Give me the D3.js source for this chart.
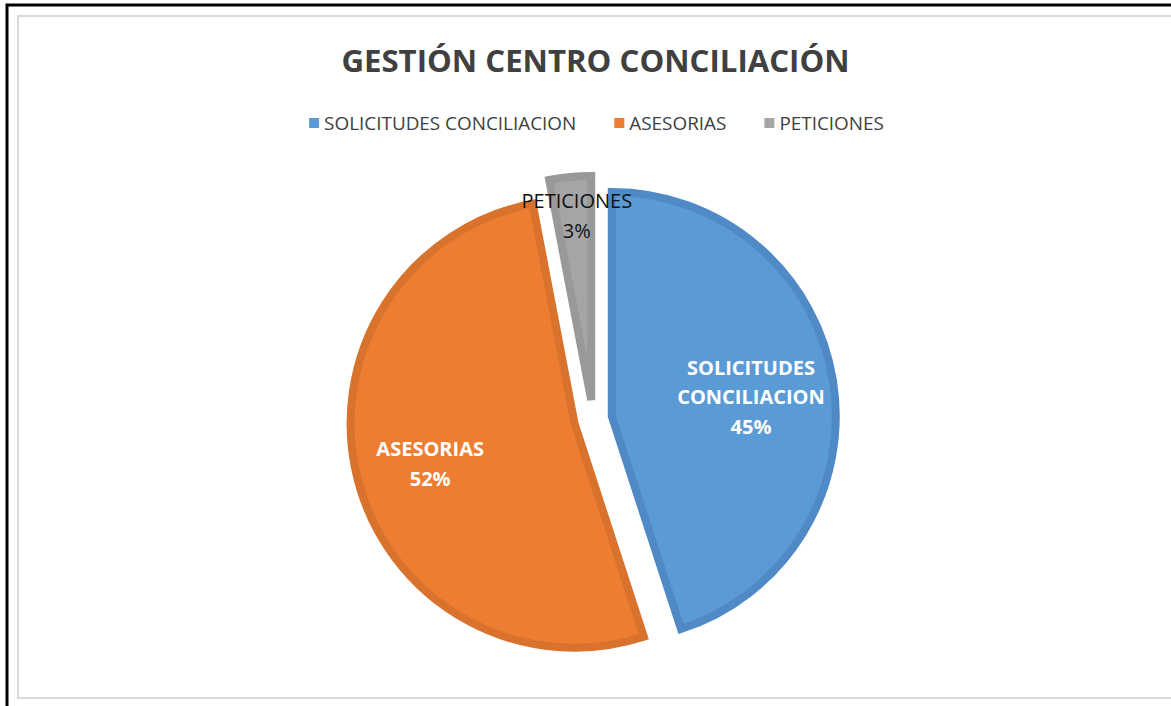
<!DOCTYPE html>
<html>
<head>
<meta charset="utf-8">
<script src="https://cdn.jsdelivr.net/npm/d3@7"></script>
<style>
  html, body { margin: 0; padding: 0; background: #fff; }
  svg { display: block; font-family: "Open Sans", sans-serif; }
</style>
</head>
<body>
<div id="chart"></div>
<script>
// Data
const categories = ["SOLICITUDES CONCILIACION", "ASESORIAS", "PETICIONES"];
const values = [45, 52, 3];
const colors = ["#5B9BD5", "#ED7D31", "#A5A5A5"];
const borderColors = ["#4F8AC6", "#D9722C", "#999999"];
const title = "GESTIÓN CENTRO CONCILIACIÓN";

const width = 1171, height = 706;

const svg = d3.select("#chart")
  .append("svg")
  .attr("width", width)
  .attr("height", height);

svg.append("rect")
  .attr("width", width)
  .attr("height", height)
  .attr("fill", "#fff");

// outer black frame (cut off on right and bottom) and chart area border
svg.append("rect")
  .attr("x", 7).attr("y", 5)
  .attr("width", width + 20).attr("height", height + 20)
  .attr("fill", "none")
  .attr("stroke", "#000")
  .attr("stroke-width", 3);

svg.append("rect")
  .attr("x", 18).attr("y", 16)
  .attr("width", width + 20).attr("height", 682)
  .attr("fill", "none")
  .attr("stroke", "#d9d9d9")
  .attr("stroke-width", 2);

const centerX = 595.5;

// Title
svg.append("text")
  .attr("x", centerX)
  .attr("y", 72)
  .attr("text-anchor", "middle")
  .attr("font-size", "31.2px")
  .attr("font-weight", "bold")
  .attr("fill", "#404040")
  .text(title);

// Legend
const data = categories.map((c, i) => ({ name: c, value: values[i], color: colors[i], border: borderColors[i] }));

const legend = svg.append("g");
const boxSize = 10, boxGap = 5, itemGap = 38;
let lx = 0;
data.forEach(d => {
  const g = legend.append("g").attr("transform", `translate(${lx},0)`);
  g.append("rect")
    .attr("x", 0).attr("y", -5)
    .attr("width", boxSize).attr("height", boxSize)
    .attr("fill", d.color);
  const t = g.append("text")
    .attr("x", boxSize + boxGap)
    .attr("y", 6.5)
    .attr("font-size", "18.9px")
    .attr("fill", "#404040")
    .text(d.name);
  lx += boxSize + boxGap + t.node().getComputedTextLength() + itemGap;
});
const legendWidth = lx - itemGap;
legend.attr("transform", `translate(${centerX + 1 - legendWidth / 2},123)`);

// Pie
const cx = 593, cy = 419;
const radius = 224;
const explode = 19;

const pie = d3.pie().sort(null).value(d => d.value);
const arcs = pie(data);
const total = d3.sum(values);
const pct = d3.format(".0%");

const arc = d3.arc().innerRadius(0).outerRadius(radius);

const pieG = svg.append("g").attr("transform", `translate(${cx},${cy})`);

const slices = pieG.selectAll("g.slice")
  .data(arcs)
  .enter()
  .append("g")
  .attr("class", "slice")
  .attr("transform", d => {
    const mid = (d.startAngle + d.endAngle) / 2;
    return `translate(${Math.sin(mid) * explode},${-Math.cos(mid) * explode})`;
  });

slices.append("path")
  .attr("d", arc)
  .attr("fill", d => d.data.color)
  .attr("stroke", d => d.data.border)
  .attr("stroke-width", 8);

// Data labels (small slices get their label outside, in dark text)
const lineHeight = 29.5;
slices.each(function(d) {
  const small = d.value / total < 0.05;
  const r = small ? 185 : 145;
  const mid = (d.startAngle + d.endAngle) / 2;
  const x = Math.sin(mid) * r - (small ? -3 : 4);
  const y = -Math.cos(mid) * r + (small ? 0 : 4);
  const lines = d.data.name.split(" ").concat([pct(d.value / total)]);
  const text = d3.select(this).append("text")
    .attr("text-anchor", "middle")
    .attr("font-size", "20px")
    .attr("font-weight", small ? "normal" : "bold")
    .attr("fill", small ? "#111" : "#fff");
  lines.forEach((line, i) => {
    text.append("tspan")
      .attr("x", x)
      .attr("y", y - (lines.length - 1) * lineHeight / 2 + 7 + i * lineHeight)
      .text(line);
  });
});
</script>
</body>
</html>
